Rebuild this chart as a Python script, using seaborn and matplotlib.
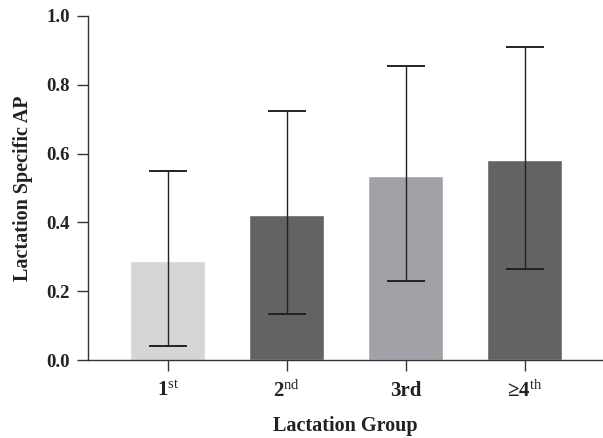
import matplotlib
matplotlib.use("Agg")
import matplotlib.pyplot as plt
import seaborn as sns
import numpy as np
import pandas as pd

categories = ["1st", "2nd", "3rd", ">=4th"]
tick_labels = [r"1$^{\mathrm{st}}$", r"2$^{\mathrm{nd}}$",
               "3rd", r"≥4$^{\mathrm{th}}$"]
values = [0.288, 0.422, 0.535, 0.580]
err_low = [0.041, 0.134, 0.229, 0.265]
err_high = [0.548, 0.725, 0.856, 0.911]
colors = ["#d4d5d7", "#636365", "#a0a2a8", "#636365"]

sns.set_style("white")
plt.rcParams["font.family"] = ["Liberation Serif", "DejaVu Serif"]
plt.rcParams["mathtext.fontset"] = "custom"
plt.rcParams["mathtext.rm"] = "Liberation Serif"
plt.rcParams["mathtext.bf"] = "Liberation Serif:bold"
plt.rcParams["mathtext.it"] = "Liberation Serif:italic"

df = pd.DataFrame({"group": categories, "ap": values})

fig = plt.figure(figsize=(6.03, 4.38), dpi=100)
ax = fig.add_axes([0.146, 0.178, 0.854, 0.7855])

sns.barplot(data=df, x="group", y="ap", hue="group", palette=colors,
            legend=False, width=0.63, saturation=1, ax=ax, errorbar=None)

xs = np.arange(len(categories))
vals = np.array(values)
lo = vals - np.array(err_low)
hi = np.array(err_high) - vals
ax.errorbar(xs, vals, yerr=[lo, hi], fmt="none", ecolor="#222222",
            elinewidth=1.0, capsize=14, capthick=1.4, zorder=5)

ax.set_ylim(0, 1.0)
ax.set_xlim(-0.67, 3.66)
ax.set_yticks([0.0, 0.2, 0.4, 0.6, 0.8, 1.0])
ax.set_yticklabels(["0.0", "0.2", "0.4", "0.6", "0.8", "1.0"],
                   fontsize=13.5, fontweight="bold", color="#222222")
ax.set_xticks(xs)
ax.set_xticklabels(tick_labels, fontsize=15, fontweight="bold", color="#222222")

for s in ["top", "right"]:
    ax.spines[s].set_visible(False)
for s in ["left", "bottom"]:
    ax.spines[s].set_color("#333333")
    ax.spines[s].set_linewidth(1.0)

ax.tick_params(axis="both", direction="out", length=8, width=1.0,
               color="#333333", left=True, bottom=True)
ax.tick_params(axis="x", pad=7)
ax.tick_params(axis="y", pad=5)

ax.set_xlabel("Lactation Group", fontsize=14.5, fontweight="bold",
              color="#222222", labelpad=10)
ax.set_ylabel("Lactation Specific AP", fontsize=14.5, fontweight="bold",
              color="#222222", labelpad=10)

fig.savefig("out.png", dpi=100)
